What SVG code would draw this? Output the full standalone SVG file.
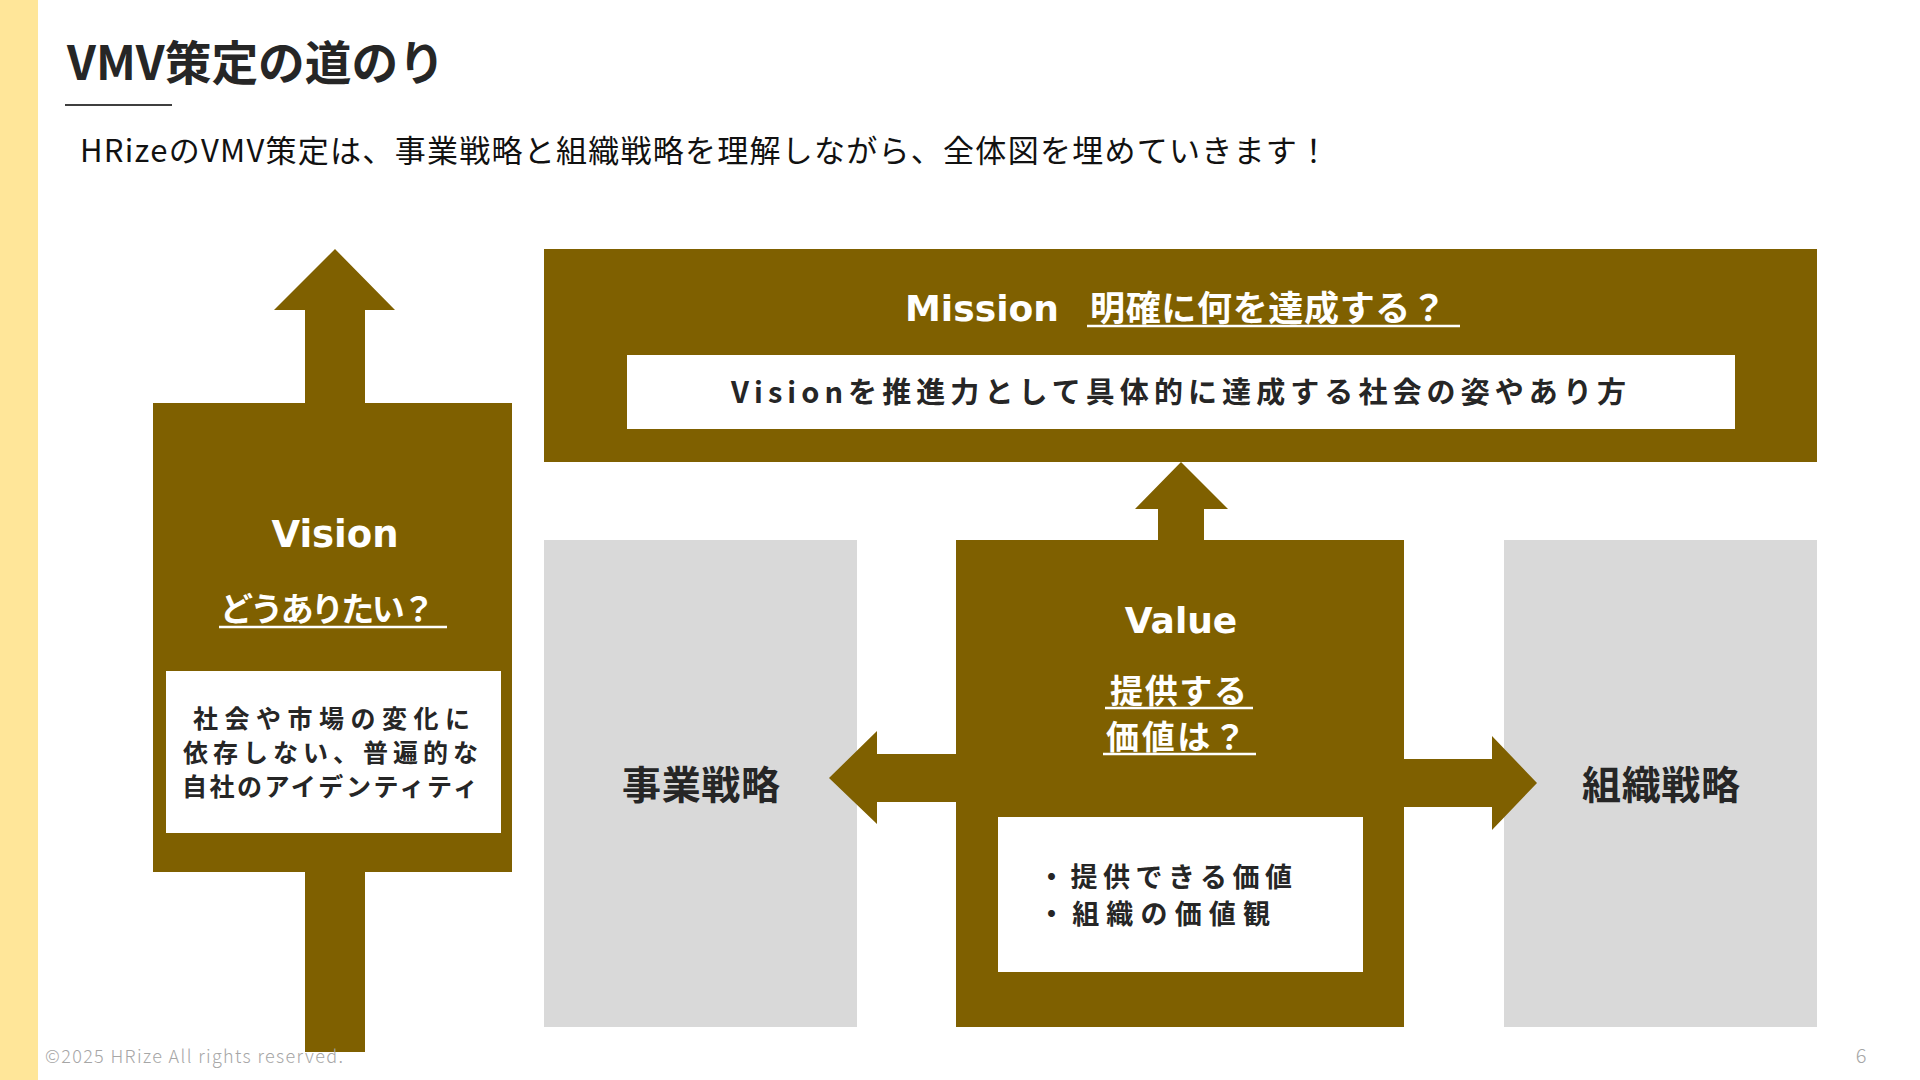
<svg xmlns="http://www.w3.org/2000/svg" width="1920" height="1080" viewBox="0 0 1920 1080">
  <style>
    .jp { font-family: "Noto Sans CJK JP", "Noto Sans", sans-serif; }
    .lat { font-family: "DejaVu Sans", "Noto Sans CJK JP", sans-serif; font-weight: bold; }
    .b { font-weight: bold; }
    .w { fill: #FFFFFF; }
    .d { fill: #262626; }
    .brown { fill: #7F6000; }
    .gray { fill: #D9D9D9; }
    .box { fill: #FFFFFF; }
    .ul { stroke: #FFFFFF; stroke-width: 2.5; }
  </style>
  <rect x="0" y="0" width="1920" height="1080" fill="#FFFFFF"/>
  <rect x="0" y="0" width="38" height="1080" fill="#FFE699"/>

  <g id="header">
    <text class="jp b d" x="67" y="80" font-size="47" textLength="378" lengthAdjust="spacingAndGlyphs">VMV策定の道のり</text>
    <line x1="65" y1="105" x2="172" y2="105" stroke="#3F3F3F" stroke-width="2"/>
    <text class="jp" x="80" y="162" font-size="31" fill="#111111" textLength="1249">HRizeのVMV策定は、事業戦略と組織戦略を理解しながら、全体図を埋めていきます！</text>
  </g>

  <g id="vision">
    <path class="brown" d="M335 249 L395 310 L365 310 L365 403 L512 403 L512 872 L365 872 L365 1052 L305 1052 L305 872 L153 872 L153 403 L305 403 L305 310 L274 310 Z"/>
    <text class="lat w" x="335" y="547" font-size="37" text-anchor="middle">Vision</text>
    <text class="jp b w" x="220" y="621" font-size="33" textLength="215">どうありたい？</text>
    <line class="ul" x1="219" y1="627" x2="447" y2="627"/>
    <rect class="box" x="166" y="671" width="335" height="162"/>
    <text class="jp b d" x="193" y="728" font-size="25" textLength="277">社会や市場の変化に</text>
    <text class="jp b d" x="183" y="762" font-size="25" textLength="295">依存しない、普遍的な</text>
    <text class="jp b d" x="182" y="796" font-size="25" textLength="296">自社のアイデンティティ</text>
  </g>

  <g id="mission">
    <rect class="brown" x="544" y="249" width="1273" height="213"/>
    <text class="lat w" x="905" y="321" font-size="36" textLength="154">Mission</text>
    <text class="jp b w" x="1090" y="321" font-size="35" textLength="356">明確に何を達成する？</text>
    <line class="ul" x1="1087" y1="326" x2="1460" y2="326"/>
    <rect class="box" x="627" y="355" width="1108" height="74"/>
    <text class="jp b d" x="731" y="403" font-size="29" textLength="895">Visionを推進力として具体的に達成する社会の姿やあり方</text>
  </g>

  <g id="business-strategy">
    <rect class="gray" x="544" y="540" width="313" height="487"/>
    <text class="jp b d" x="622" y="799" font-size="39" textLength="158">事業戦略</text>
  </g>

  <g id="org-strategy">
    <rect class="gray" x="1504" y="540" width="313" height="487"/>
    <text class="jp b d" x="1582" y="799" font-size="39" textLength="158">組織戦略</text>
  </g>

  <g id="value">
    <rect class="brown" x="956" y="540" width="448" height="487"/>
    <text class="lat w" x="1181" y="633" font-size="36" text-anchor="middle">Value</text>
    <text class="jp b w" x="1110" y="703" font-size="33" textLength="137">提供する</text>
    <line class="ul" x1="1105" y1="708" x2="1253" y2="708"/>
    <text class="jp b w" x="1106" y="749" font-size="33" textLength="140">価値は？</text>
    <line class="ul" x1="1103" y1="754" x2="1256" y2="754"/>
    <rect class="box" x="998" y="817" width="365" height="155"/>
    <text class="jp b d" x="1038" y="887" font-size="27" textLength="254">・提供できる価値</text>
    <text class="jp b d" x="1038" y="924" font-size="27" textLength="232">・組織の価値観</text>
  </g>

  <g id="connectors">
    <polygon class="brown" points="1181,462 1228,509 1204,509 1204,540 1158,540 1158,509 1135,509"/>
    <polygon class="brown" points="956,754 877,754 877,731 829,778 877,824 877,802 956,802"/>
    <polygon class="brown" points="1404,759 1492,759 1492,736 1537,783 1492,830 1492,807 1404,807"/>
  </g>

  <g id="footer">
    <text class="jp" x="45" y="1063" font-size="18" font-weight="300" fill="#A6A6A6" textLength="298">©2025 HRize All rights reserved.</text>
    <text class="jp" x="1861" y="1063" font-size="20" font-weight="300" fill="#A6A6A6" text-anchor="middle">6</text>
  </g>
</svg>
